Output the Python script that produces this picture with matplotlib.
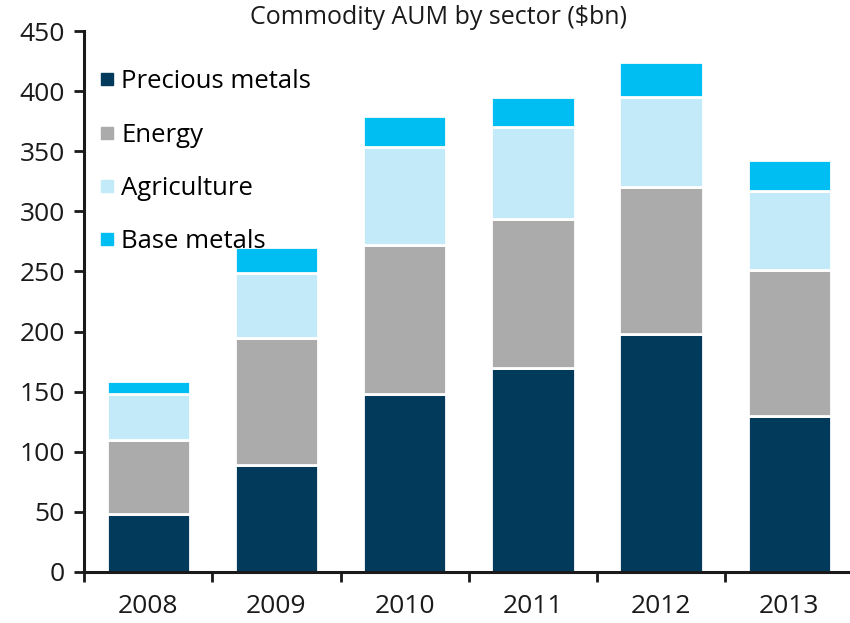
import numpy as np
import matplotlib.pyplot as plt
from matplotlib.lines import Line2D

plt.rcParams['font.family'] = ['Open Sans', 'DejaVu Sans']

years = ['2008', '2009', '2010', '2011', '2012', '2013']
precious = [48, 89, 148, 170, 198, 130]
energy = [62, 106, 124, 124, 122, 121]
agriculture = [38, 54, 82, 76, 75, 66]
base = [11, 21, 25, 25, 29, 26]

sectors = ['Precious metals', 'Energy', 'Agriculture', 'Base metals']
colors = ['#023A5C', '#ABABAB', '#C3EAF8', '#00BEF2']

fig = plt.figure(figsize=(8.5, 6.23), dpi=100)
ax = fig.add_axes([0.099, 0.082, 0.905, 0.868])

x = np.arange(len(years))
bottom = np.zeros(len(years))
for vals, col in zip([precious, energy, agriculture, base], colors):
    ax.bar(x, vals, width=0.65, bottom=bottom, color=col,
           edgecolor='white', linewidth=2)
    bottom += np.array(vals)

ax.set_xlim(-0.5, 5.5)
ax.set_ylim(0, 450)
ax.set_yticks(np.arange(0, 451, 50))
ax.set_xticks(x)
ax.set_xticklabels(years)
ax.set_xticks(np.arange(-0.5, 5, 1), minor=True)

for s in ['top', 'right']:
    ax.spines[s].set_visible(False)
for s in ['left', 'bottom']:
    ax.spines[s].set_linewidth(2.2)
    ax.spines[s].set_color('#1a1a1a')

ax.tick_params(axis='y', length=7, width=2, labelsize=19, pad=7,
               colors='#1a1a1a')
ax.tick_params(axis='x', which='major', length=0, labelsize=19, pad=16,
               colors='#1a1a1a')
ax.tick_params(axis='x', which='minor', length=7, width=2, color='#1a1a1a')

ax.set_title('Commodity AUM by sector ($bn)', fontsize=18, pad=5,
             color='#1a1a1a', x=0.46)

handles = [Line2D([], [], marker='s', linestyle='none', markersize=8,
                  markerfacecolor=c, markeredgecolor=c) for c in colors]
ax.legend(handles, sectors, loc='upper left', bbox_to_anchor=(0.0, 0.958),
          frameon=False, fontsize=18.5, handlelength=0.6, handletextpad=0.25,
          labelspacing=1.1, borderaxespad=0.2)

plt.savefig('out.png', dpi=100)
